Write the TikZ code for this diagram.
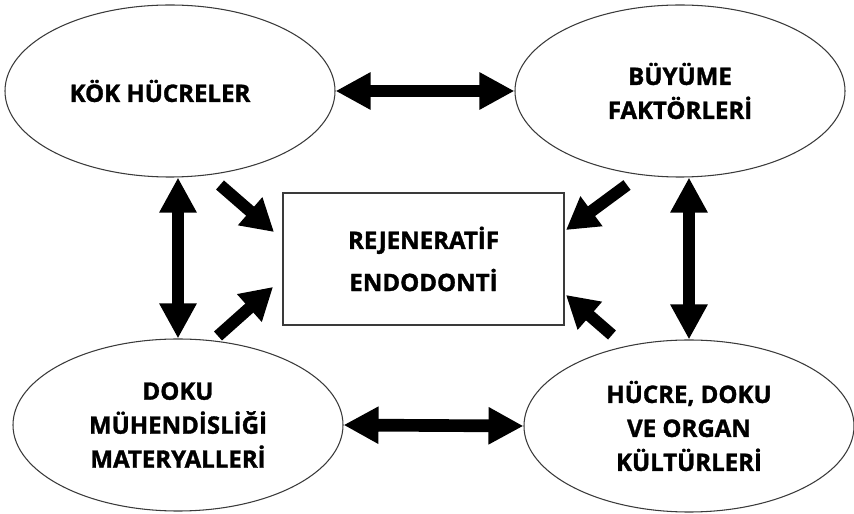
\documentclass[tikz,border=0pt]{standalone}
\usepackage{fontspec}
\setmainfont{Open Sans}
\newfontfamily\heavyfont{Open Sans}[UprightFont={* Bold}, FakeBold=1.4]
\usepackage{tikz}
\usetikzlibrary{arrows.meta,shapes.geometric}
\definecolor{edgeG}{HTML}{3A3A3A}

\tikzset{
  bubble/.style={ellipse, draw=edgeG, line width=0.9pt, inner sep=0pt,
    minimum width=9.9cm, minimum height=5.16cm, align=center},
  centrebox/.style={rectangle, draw=edgeG, line width=1.1pt, inner sep=0pt,
    minimum width=8.43cm, minimum height=3.96cm, align=center},
  twoway/.style={{Triangle[length=1.05cm,width=1.05cm]}-{Triangle[length=1.05cm,width=1.05cm]},
    line width=0.38cm},
  oneway/.style={-{Triangle[length=0.95cm,width=1.05cm]}, line width=0.36cm}
}

\begin{document}
\begin{tikzpicture}[x=0.03cm, y=-0.03cm,
    font=\fontsize{20.5}{29}\selectfont\heavyfont]
  \useasboundingbox[fill=white] (0,0) rectangle (854,514);

  \node[bubble] (kok) at (170,91) {KÖK HÜCRELER\hspace*{0.6cm}};
  \node[bubble] (buy) at (680,91) {BÜYÜME\\FAKTÖRLERİ};
  \node[bubble] (doku) at (178,425) {DOKU\\MÜHENDİSLİĞİ\\MATERYALLERİ};
  \node[bubble] (huc) at (689,426) {HÜCRE, DOKU\\VE ORGAN\\KÜLTÜRLERİ};
  \node[centrebox, font=\fontsize{20.5}{36}\selectfont\heavyfont] (rej) at (423.5,259)
    {REJENERATİF\\ENDODONTİ};

  % two-way links between the four fields
  \draw[twoway] (kok.east) -- (buy.west);
  \draw[twoway] (doku.east) -- (huc.west);
  \draw[twoway] (doku.north |- kok.south) -- (doku.north);
  \draw[twoway] (huc.north |- buy.south) -- (huc.north);

  % inputs to the centre box
  \coordinate (tlA) at (220,185);  \coordinate (tlB) at (274,232);
  \coordinate (trA) at (627,185);  \coordinate (trB) at (566,230);
  \coordinate (blA) at (218,336);  \coordinate (blB) at (273,287);
  \coordinate (brA) at (612,335);  \coordinate (brB) at (566,295);
  \foreach \a/\b in {tlA/tlB, trA/trB, blA/blB, brA/brB}{
    \draw[oneway] (\a) -- (\b);
  }
\end{tikzpicture}
\end{document}
